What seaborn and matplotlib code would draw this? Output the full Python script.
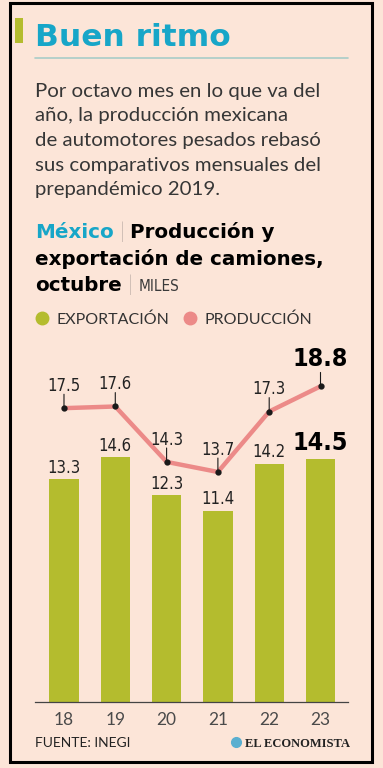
import matplotlib
matplotlib.use("Agg")
import numpy as np
import pandas as pd
import matplotlib.pyplot as plt
import seaborn as sns
from matplotlib.patches import Rectangle
from matplotlib.lines import Line2D

# datos (miles de unidades, octubre de cada año)
anios = ["18", "19", "20", "21", "22", "23"]
exportacion = [13.3, 14.6, 12.3, 11.4, 14.2, 14.5]
produccion = [17.5, 17.6, 14.3, 13.7, 17.3, 18.8]

df = pd.DataFrame({"anio": anios, "exportacion": exportacion, "produccion": produccion})

sns.set_style("white")
plt.rcParams["font.family"] = ["Lato", "DejaVu Sans"]

bg = "#FCE5D8"
verde = "#B4BC2E"
rosa = "#EC8A88"
cian = "#17A6C8"
gris = "#363636"
num_font = ["Liberation Sans Narrow", "DejaVu Sans"]
head_font = ["DejaVu Sans"]

W, H = 383, 768
fig = plt.figure(figsize=(W / 100, H / 100), dpi=100, facecolor=bg)


def fx(px):
    return px / W


def fy(py):
    return 1 - py / H


# marco
fig.patches.append(Rectangle((fx(10), fy(762)), fx(372) - fx(10), fy(3) - fy(762),
                             transform=fig.transFigure, fill=False, ec="black", lw=2.2))
fig.patches.append(Rectangle((fx(15), fy(43)), fx(8), 25 / H, transform=fig.transFigure,
                             color=verde, lw=0))

# titulo y texto
fig.text(fx(35), fy(46), "Buen ritmo", color=cian, fontsize=22.5, fontweight="bold",
         family=head_font, va="baseline")
fig.add_artist(Line2D([fx(35), fx(348)], [fy(58), fy(58)], color="#A9CCC8", lw=1.2))
cuerpo = ["Por octavo mes en lo que va del",
          "año, la producción mexicana",
          "de automotores pesados rebasó",
          "sus comparativos mensuales del",
          "prepandémico 2019."]
for i, linea in enumerate(cuerpo):
    fig.text(fx(35), fy(97 + i * 24.5), linea, color=gris, fontsize=14.7, va="baseline")

renderer = fig.canvas.get_renderer()


def encadenar(partes, x0, y0):
    x = x0
    for txt, kw in partes:
        t = fig.text(x, y0, txt, va="baseline", **kw)
        bb = t.get_window_extent(renderer)
        x = x + bb.width / W


sub_b = dict(color="black", fontsize=14.3, fontweight="bold", family=head_font)
sub_l = dict(color="#555555", fontsize=15, fontweight="light")
encadenar([("México", dict(color=cian, fontsize=14.3, fontweight="bold", family=head_font)),
           (" | ", sub_l), ("Producción y", sub_b)], fx(35), fy(238))
fig.text(fx(35), fy(264.5), "exportación de camiones,", va="baseline", **sub_b)
encadenar([("octubre", sub_b), (" | ", sub_l),
           ("MILES", dict(color="#3A3A3A", fontsize=11, family=num_font, stretch="condensed"))],
          fx(35), fy(291))

# leyenda
for cx, col, lab in [(42, verde, "EXPORTACIÓN"), (190, rosa, "PRODUCCIÓN")]:
    fig.add_artist(Line2D([fx(cx)], [fy(318)], marker="o", ms=9, color=col, lw=0))
    fig.text(fx(cx + 15), fy(324), lab, color="#333333", fontsize=11.5, va="baseline")

# grafica
ax = fig.add_axes([fx(35), fy(702), fx(348) - fx(35), (702 - 341) / H])
ax.set_facecolor(bg)
sns.barplot(data=df, x="anio", y="exportacion", color=verde, saturation=1, width=0.57,
            linewidth=0, ax=ax)
sns.pointplot(data=df, x="anio", y="produccion", color=rosa, markers="", linewidth=3.2, ax=ax)
sns.pointplot(data=df, x="anio", y="produccion", color="#1A1A1A", markers="o", markersize=2.5,
              linestyle="none", ax=ax)

for i, v in enumerate(exportacion):
    ultimo = i == len(exportacion) - 1
    ax.annotate(f"{v}", (i, v), xytext=(0, 11.5 if ultimo else 8), textcoords="offset points",
                ha="center", va="center", family=num_font, stretch="condensed",
                fontsize=18 if ultimo else 12, fontweight="bold" if ultimo else "normal",
                color="black" if ultimo else "#222222")

for i, v in enumerate(produccion):
    ultimo = i == len(produccion) - 1
    dy = 20 if ultimo else 16
    ax.annotate("", xy=(i, v), xytext=(0, dy - (10 if ultimo else 6)), textcoords="offset points",
                arrowprops=dict(arrowstyle="-", color="#1A1A1A", lw=0.8, shrinkA=0, shrinkB=0))
    ax.annotate(f"{v}", (i, v), xytext=(0, dy), textcoords="offset points",
                ha="center", va="center", family=num_font, stretch="condensed",
                fontsize=18 if ultimo else 12, fontweight="bold" if ultimo else "normal",
                color="black" if ultimo else "#222222")

ax.set_xlim(-0.565, 5.536)
ax.set_ylim(0, 21.5)
ax.set_xlabel("")
ax.set_ylabel("")
ax.set_yticks([])
for s in ["top", "right", "left"]:
    ax.spines[s].set_visible(False)
ax.spines["bottom"].set_color("#444444")
ax.spines["bottom"].set_linewidth(0.9)
ax.tick_params(axis="x", length=0, pad=7, labelsize=12.5, labelcolor="#4A4A4A")

# pie
fig.text(fx(35), fy(747), "FUENTE: INEGI", color="#222222", fontsize=10, va="baseline")
fig.text(fx(350), fy(747), "EL ECONOMISTA", color="#222222", fontsize=9, fontweight="bold",
         family="Liberation Serif", ha="right", va="baseline")
fig.add_artist(Line2D([fx(236)], [fy(742)], marker="o", ms=7, color="#5AAFD0", lw=0))

fig.savefig("out.png", dpi=100, facecolor=bg)
